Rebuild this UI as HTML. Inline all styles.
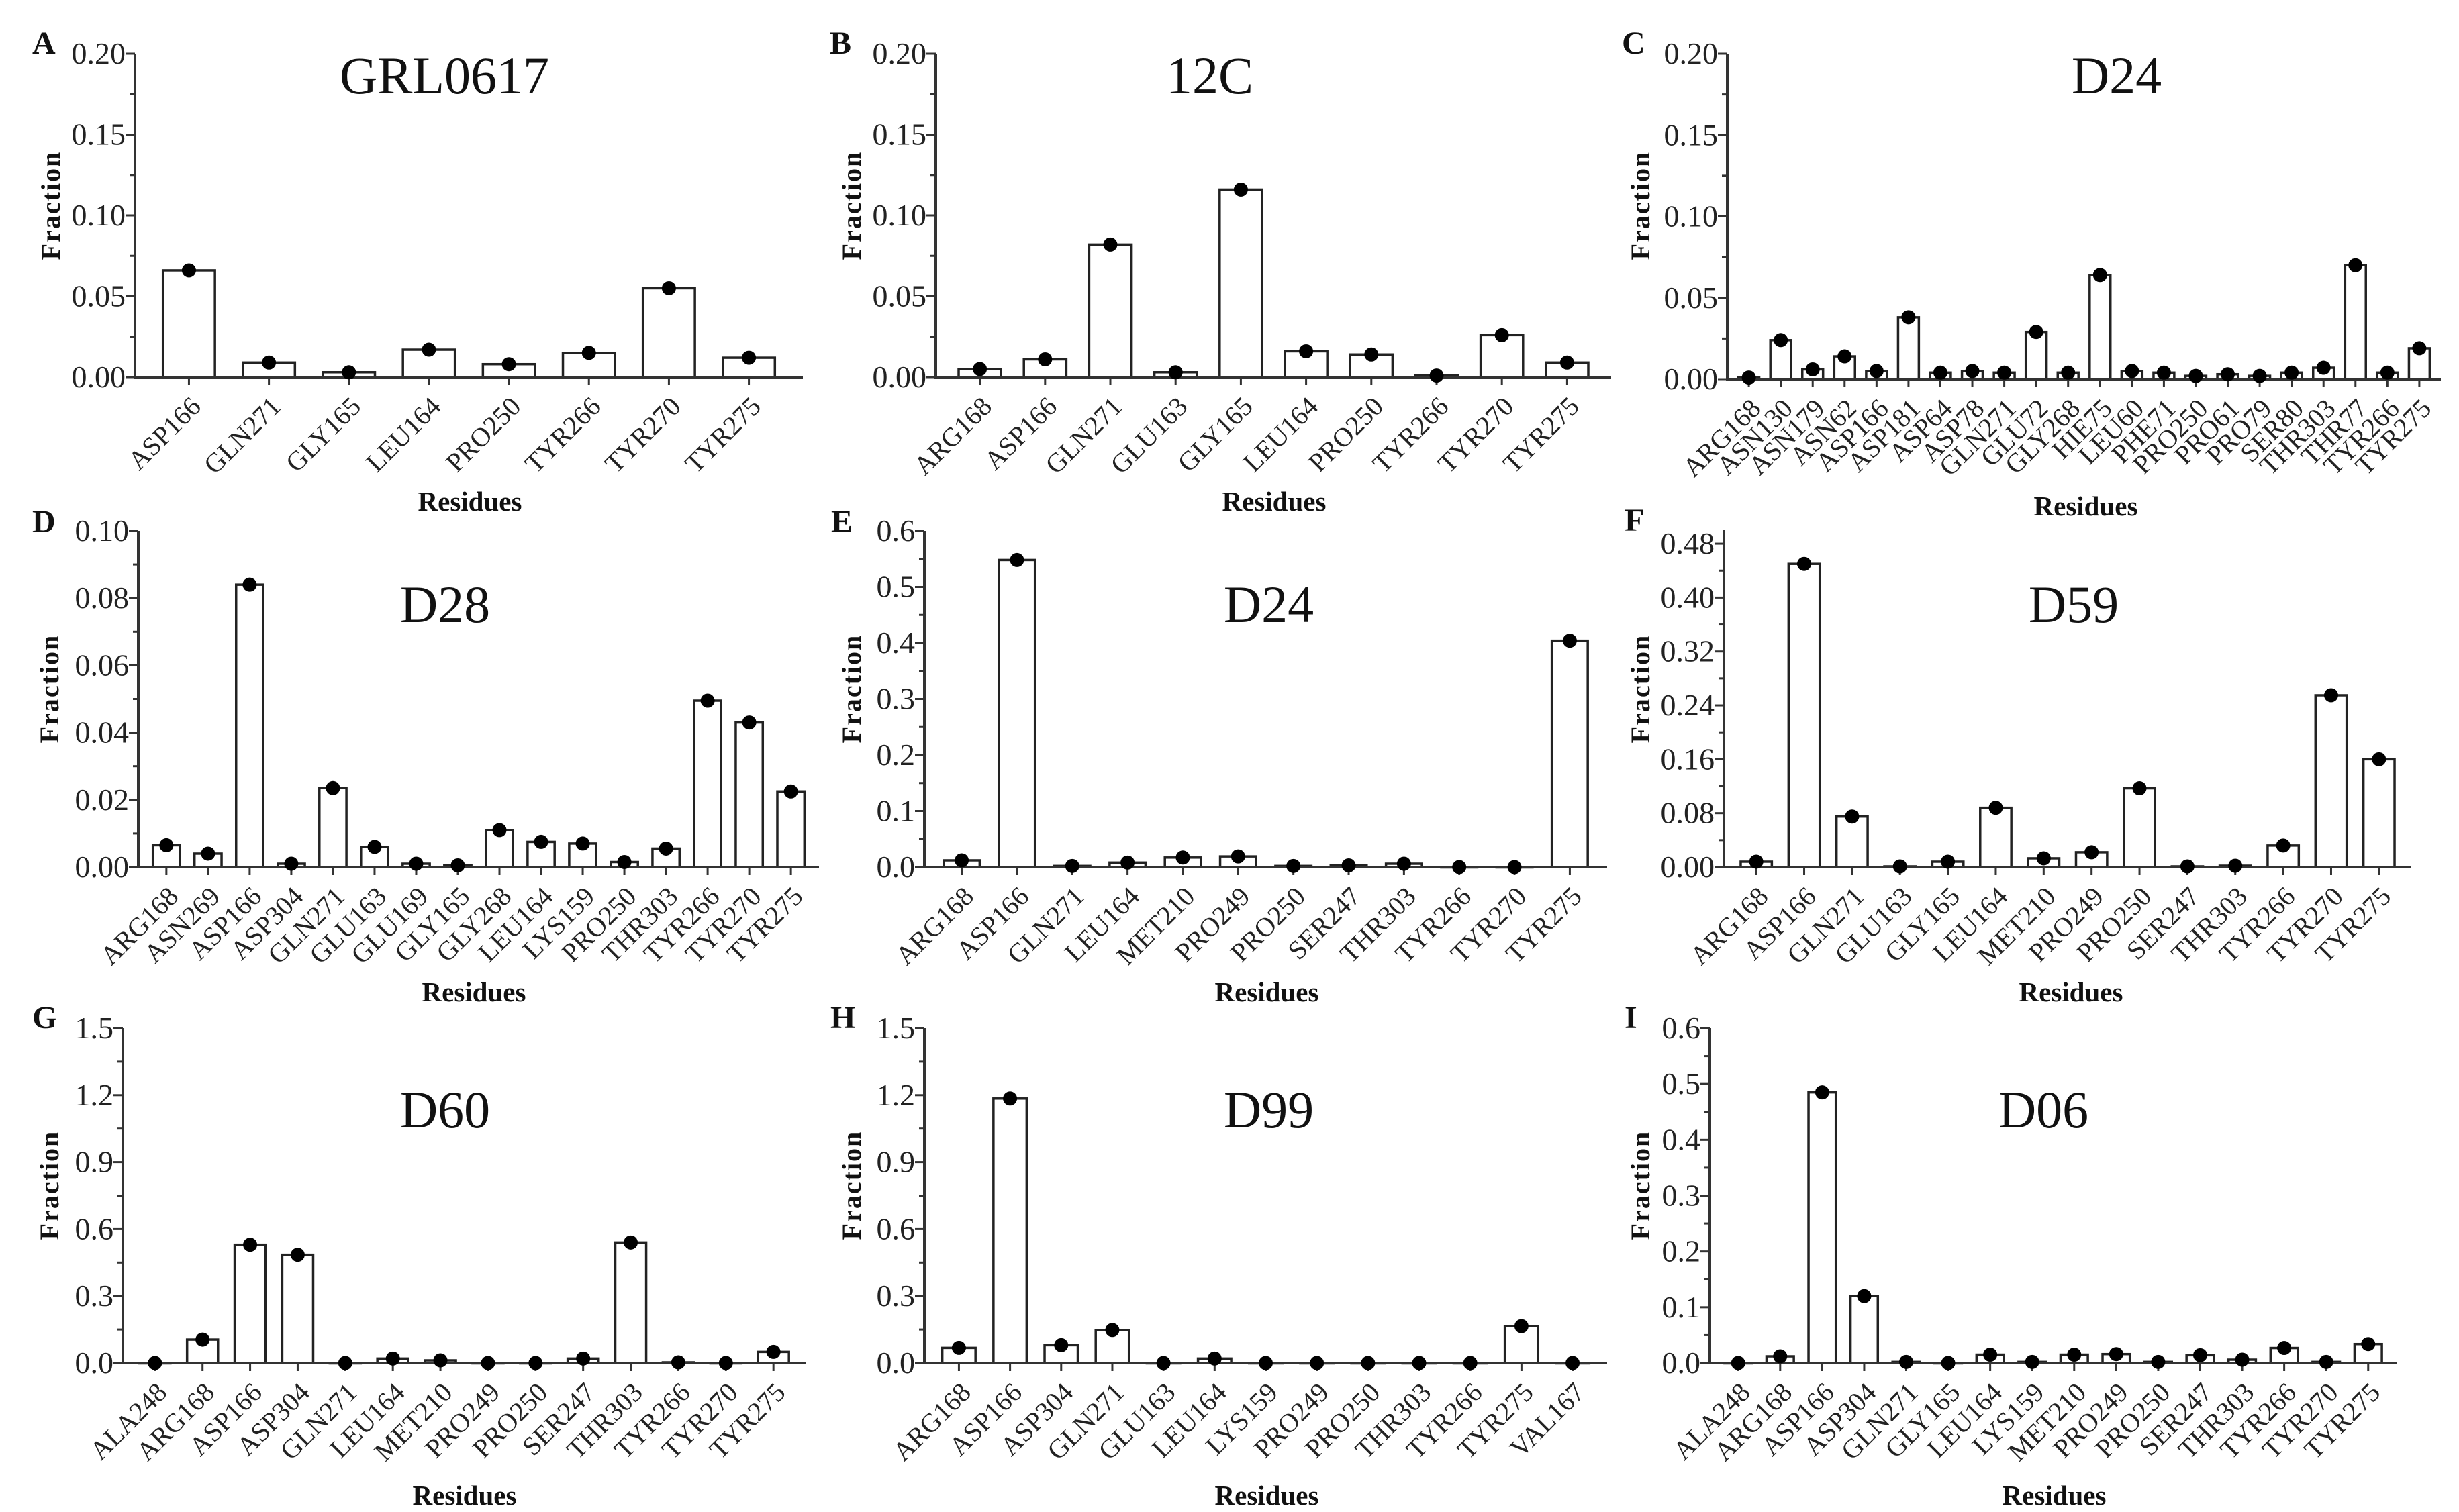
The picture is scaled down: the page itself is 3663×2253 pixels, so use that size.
<!DOCTYPE html>
<html><head><meta charset="utf-8"><style>
html,body{margin:0;padding:0;background:#fff;}
svg{display:block;font-family:"Liberation Serif",serif;}
text{font-family:"Liberation Serif",serif;}
</style></head><body>
<svg id="fig" xmlns="http://www.w3.org/2000/svg" width="3663" height="2253" viewBox="0 0 3663 2253"></svg>
<script>
// ---- data ----
const catsA=["ASP166","GLN271","GLY165","LEU164","PRO250","TYR266","TYR270","TYR275"];
const valsA=[0.066,0.009,0.003,0.017,0.008,0.015,0.055,0.012];
const ticksA=["0.00","0.05","0.10","0.15","0.20"];
const catsB=["ARG168","ASP166","GLN271","GLU163","GLY165","LEU164","PRO250","TYR266","TYR270","TYR275"];
const valsB=[0.005,0.011,0.082,0.003,0.116,0.016,0.014,0.001,0.026,0.009];
const ticksB=["0.00","0.05","0.10","0.15","0.20"];
const catsC=["ARG168","ASN130","ASN179","ASN62","ASP166","ASP181","ASP64","ASP78","GLN271","GLU72","GLY268","HIE75","LEU60","PHE71","PRO250","PRO61","PRO79","SER80","THR303","THR77","TYR266","TYR275"];
const valsC=[0.001,0.024,0.006,0.014,0.005,0.038,0.004,0.005,0.004,0.029,0.004,0.064,0.005,0.004,0.002,0.003,0.002,0.004,0.007,0.070,0.004,0.019];
const ticksC=["0.00","0.05","0.10","0.15","0.20"];
const catsD=["ARG168","ASN269","ASP166","ASP304","GLN271","GLU163","GLU169","GLY165","GLY268","LEU164","LYS159","PRO250","THR303","TYR266","TYR270","TYR275"];
const valsD=[0.0065,0.004,0.084,0.001,0.0235,0.006,0.001,0.0005,0.011,0.0075,0.007,0.0015,0.0055,0.0495,0.043,0.0225];
const ticksD=["0.00","0.02","0.04","0.06","0.08","0.10"];
const catsE=["ARG168","ASP166","GLN271","LEU164","MET210","PRO249","PRO250","SER247","THR303","TYR266","TYR270","TYR275"];
const valsE=[0.012,0.548,0.002,0.008,0.017,0.019,0.002,0.003,0.006,0.0,0.0,0.404];
const ticksE=["0.0","0.1","0.2","0.3","0.4","0.5","0.6"];
const catsF=["ARG168","ASP166","GLN271","GLU163","GLY165","LEU164","MET210","PRO249","PRO250","SER247","THR303","TYR266","TYR270","TYR275"];
const valsF=[0.008,0.450,0.075,0.001,0.008,0.088,0.013,0.022,0.117,0.001,0.002,0.032,0.255,0.160];
const ticksF=["0.00","0.08","0.16","0.24","0.32","0.40","0.48"];
const catsG=["ALA248","ARG168","ASP166","ASP304","GLN271","LEU164","MET210","PRO249","PRO250","SER247","THR303","TYR266","TYR270","TYR275"];
const valsG=[0.0,0.105,0.530,0.485,0.0,0.020,0.012,0.0,0.0,0.020,0.540,0.003,0.0,0.050];
const ticksG=["0.0","0.3","0.6","0.9","1.2","1.5"];
const catsH=["ARG168","ASP166","ASP304","GLN271","GLU163","LEU164","LYS159","PRO249","PRO250","THR303","TYR266","TYR275","VAL167"];
const valsH=[0.068,1.185,0.080,0.148,0.0,0.020,0.0,0.0,0.0,0.0,0.0,0.165,0.0];
const ticksH=["0.0","0.3","0.6","0.9","1.2","1.5"];
const catsI=["ALA248","ARG168","ASP166","ASP304","GLN271","GLY165","LEU164","LYS159","MET210","PRO249","PRO250","SER247","THR303","TYR266","TYR270","TYR275"];
const valsI=[0.0,0.012,0.485,0.120,0.002,0.0,0.015,0.002,0.015,0.016,0.002,0.014,0.006,0.027,0.002,0.034];
const ticksI=["0.0","0.1","0.2","0.3","0.4","0.5","0.6"];

// ---- layout (pixels) ----
const panels=[
 {id:"a",L:"A",title:"GRL0617",cats:catsA,vals:valsA,ticks:ticksA,ymax:0.2,x0:201,x1:1196,yT:80,yZ:562,lx:48,ly:80,tx:662,ty:139,fx:80,fy:306,rx:700,ry:761},
 {id:"b",L:"B",title:"12C",cats:catsB,vals:valsB,ticks:ticksB,ymax:0.2,x0:1394,x1:2400,yT:80,yZ:562,lx:1236,ly:80,tx:1802,ty:139,fx:1273,fy:306,rx:1898,ry:761},
 {id:"c",L:"C",title:"D24",cats:catsC,vals:valsC,ticks:ticksC,ymax:0.2,x0:2573,x1:3636,yT:80,yZ:565,lx:2416,ly:80,tx:3153,ty:139,fx:2448,fy:306,rx:3107,ry:768},
 {id:"d",L:"D",title:"D28",cats:catsD,vals:valsD,ticks:ticksD,ymax:0.1,x0:206,x1:1220,yT:791,yZ:1292,lx:48,ly:793,tx:663,ty:927,fx:78,fy:1026,rx:706,ry:1492},
 {id:"e",L:"E",title:"D24",cats:catsE,vals:valsE,ticks:ticksE,ymax:0.6,x0:1377,x1:2394,yT:791,yZ:1292,lx:1238,ly:793,tx:1890,ty:927,fx:1273,fy:1026,rx:1887,ry:1492},
 {id:"f",L:"F",title:"D59",cats:catsF,vals:valsF,ticks:ticksF,ymax:0.5,x0:2568,x1:3592,yT:790,yZ:1292,lx:2420,ly:791,tx:3089,ty:927,fx:2448,fy:1026,rx:3085,ry:1492},
 {id:"g",L:"G",title:"D60",cats:catsG,vals:valsG,ticks:ticksG,ymax:1.5,x0:183,x1:1200,yT:1532,yZ:2031,lx:48,ly:1532,tx:663,ty:1680,fx:78,fy:1766,rx:692,ry:2242},
 {id:"h",L:"H",title:"D99",cats:catsH,vals:valsH,ticks:ticksH,ymax:1.5,x0:1377,x1:2394,yT:1532,yZ:2031,lx:1237,ly:1532,tx:1890,ty:1680,fx:1273,fy:1766,rx:1887,ry:2242},
 {id:"i",L:"I",title:"D06",cats:catsI,vals:valsI,ticks:ticksI,ymax:0.6,x0:2547,x1:3570,yT:1532,yZ:2031,lx:2420,ly:1532,tx:3044,ty:1680,fx:2448,fy:1766,rx:3060,ry:2242}
];

const NS="http://www.w3.org/2000/svg";
const FF="Liberation Serif, serif";
const svg=document.getElementById("fig");
function mk(tag,attrs,parent){const e=document.createElementNS(NS,tag);for(const k in attrs)e.setAttribute(k,attrs[k]);if(tag==="text")e.setAttribute("font-family",FF);(parent||svg).appendChild(e);return e;}

panels.forEach(p=>{
  const g=mk("g",{});
  
  
  const y=v=>p.yZ-(v/p.ymax)*(p.yZ-p.yT);
  const n=p.cats.length;
  const sp=(p.x1-p.x0)/(n+0.35);
  const xc=i=>p.x0+0.675*sp+i*sp;
  const bw=sp*0.65;

  const lt=mk("text",{x:p.lx,y:p.ly,"font-size":48,"font-weight":"bold",fill:"#111"},g);lt.textContent=p.L;
  
  
  const tt=mk("text",{x:p.tx,y:p.ty,"font-size":78,"text-anchor":"middle",fill:"#111"},g);tt.textContent=p.title;
  
  

  p.vals.forEach((v,i)=>{
    const b=mk("rect",{x:xc(i)-bw/2,y:y(v),width:bw,height:Math.max(p.yZ-y(v),0.5),fill:"#fff",stroke:"#222","stroke-width":3.5},g);
    
    
  });
  const xa=mk("line",{x1:p.x0,y1:p.yZ,x2:p.x1,y2:p.yZ,stroke:"#333","stroke-width":4},g);
  
  
  p.cats.forEach((c,i)=>{
    mk("line",{x1:xc(i),y1:p.yZ,x2:xc(i),y2:p.yZ+12,stroke:"#333","stroke-width":3},g);
    const ax=xc(i)+20, ay=p.yZ+46;
    const t=mk("text",{x:ax,y:ay,"font-size":40,"text-anchor":"end",fill:"#222",transform:`rotate(-45 ${ax} ${ay})`},g);
    t.textContent=c;
    
    
  });
  p.vals.forEach((v,i)=>{
    const d=mk("circle",{cx:xc(i),cy:y(v),r:10.5,fill:"#000"},g);
    
    
  });
  const ya=mk("line",{x1:p.x0,y1:p.yT,x2:p.x0,y2:p.yZ+2,stroke:"#333","stroke-width":4},g);
  
  
  const tv=p.ticks.map(parseFloat);
  tv.forEach((v,k)=>{
    const yy=y(v);
    mk("line",{x1:p.x0-14,y1:yy,x2:p.x0,y2:yy,stroke:"#333","stroke-width":3},g);
    if(k<tv.length-1){const m=(v+tv[k+1])/2;mk("line",{x1:p.x0-8,y1:y(m),x2:p.x0,y2:y(m),stroke:"#333","stroke-width":3},g);}
    const t=mk("text",{x:p.x0-14,y:yy+15,"font-size":46,"text-anchor":"end",fill:"#222"},g);
    t.textContent=p.ticks[k];
    
    
  });
  const fr=mk("text",{x:p.fx,y:p.fy,"font-size":40,"font-weight":"bold","text-anchor":"middle","letter-spacing":2,fill:"#111",transform:`rotate(-90 ${p.fx} ${p.fy})`,"dominant-baseline":"middle"},g);
  fr.textContent="Fraction";
  
  
  const rs=mk("text",{x:p.rx,y:p.ry,"font-size":41,"font-weight":"bold","text-anchor":"middle",fill:"#111"},g);
  rs.textContent="Residues";
  
  
});
</script>
</body></html>
